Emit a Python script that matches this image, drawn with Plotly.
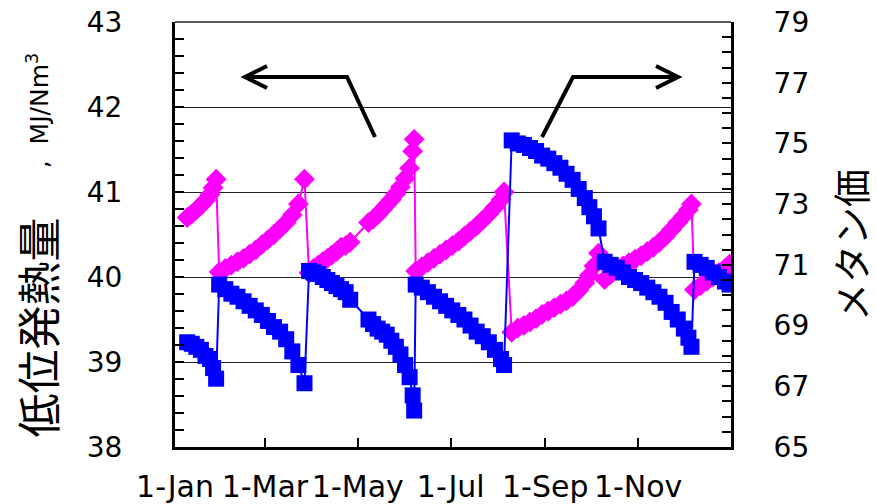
import plotly.graph_objects as go

# Sampling dates (one shared list for both measured quantities)
dates = [
    # Jan
    "2009-01-09", "2009-01-12", "2009-01-15", "2009-01-18", "2009-01-21", "2009-01-24", "2009-01-26", "2009-01-28",
    # Jan 30 - Mar 27
    "2009-01-30", "2009-02-03", "2009-02-07", "2009-02-11", "2009-02-15", "2009-02-19", "2009-02-23", "2009-02-27",
    "2009-03-03", "2009-03-07", "2009-03-11", "2009-03-15", "2009-03-19", "2009-03-23", "2009-03-27",
    # Mar 30 - Jun 7
    "2009-03-30", "2009-04-02", "2009-04-05", "2009-04-08", "2009-04-11", "2009-04-14", "2009-04-17", "2009-04-20",
    "2009-04-23", "2009-04-26",
    "2009-05-08", "2009-05-11", "2009-05-14", "2009-05-17", "2009-05-20", "2009-05-23", "2009-05-26", "2009-05-29",
    "2009-06-01", "2009-06-04", "2009-06-06", "2009-06-07",
    # Jun 8 - Aug 5
    "2009-06-08", "2009-06-12", "2009-06-16", "2009-06-20", "2009-06-24", "2009-06-28", "2009-07-02", "2009-07-06",
    "2009-07-10", "2009-07-14", "2009-07-18", "2009-07-22", "2009-07-26", "2009-07-30", "2009-08-03", "2009-08-05",
    # Aug 10 - Oct 6
    "2009-08-10", "2009-08-14", "2009-08-18", "2009-08-22", "2009-08-26", "2009-08-30", "2009-09-03", "2009-09-07",
    "2009-09-11", "2009-09-15", "2009-09-19", "2009-09-23", "2009-09-27", "2009-09-30", "2009-10-03", "2009-10-06",
    # Oct 10 - Dec 6
    "2009-10-10", "2009-10-14", "2009-10-18", "2009-10-22", "2009-10-26", "2009-10-30", "2009-11-03", "2009-11-07",
    "2009-11-11", "2009-11-15", "2009-11-19", "2009-11-23", "2009-11-27", "2009-12-01", "2009-12-04", "2009-12-06",
    # Dec 8 - Dec 31
    "2009-12-08", "2009-12-12", "2009-12-16", "2009-12-20", "2009-12-24", "2009-12-28", "2009-12-31",
]

# Lower heating value, MJ/Nm3 (left axis)
heating_value = [
    40.70, 40.74, 40.79, 40.84, 40.90, 40.97, 41.05, 41.15,
    40.06, 40.10, 40.14, 40.18, 40.22, 40.27, 40.32, 40.38,
    40.44, 40.50, 40.57, 40.64, 40.73, 40.86, 41.15,
    40.05, 40.10, 40.14, 40.18, 40.22, 40.26, 40.30, 40.35,
    40.37, 40.41,
    40.64, 40.68, 40.73, 40.79, 40.85, 40.91, 40.98, 41.06,
    41.16, 41.28, 41.48, 41.62,
    40.07, 40.12, 40.17, 40.22, 40.27, 40.32, 40.37, 40.42,
    40.48, 40.54, 40.60, 40.67, 40.74, 40.82, 40.91, 41.00,
    39.35, 39.40, 39.43, 39.47, 39.51, 39.56, 39.60, 39.64,
    39.68, 39.72, 39.77, 39.84, 39.93, 40.02, 40.13, 40.28,
    39.97, 40.03, 40.09, 40.13, 40.17, 40.21, 40.25, 40.30,
    40.35, 40.41, 40.48, 40.56, 40.64, 40.72, 40.79, 40.86,
    39.85, 39.90, 39.95, 40.00, 40.05, 40.10, 40.15,
]

# Methane number (right axis)
methane_number = [
    68.45, 68.40, 68.30, 68.20, 68.00, 67.90, 67.60, 67.25,
    70.35, 70.20, 70.05, 69.95, 69.80, 69.65, 69.50, 69.35,
    69.15, 68.95, 68.80, 68.55, 68.15, 67.70, 67.10,
    70.80, 70.75, 70.70, 70.60, 70.50, 70.40, 70.30, 70.20,
    70.10, 69.85,
    69.20, 69.05, 68.90, 68.80, 68.70, 68.50, 68.30, 68.05,
    67.70, 67.30, 66.70, 66.20,
    70.35, 70.25, 70.10, 69.95, 69.80, 69.65, 69.50, 69.35,
    69.20, 69.00, 68.80, 68.65, 68.45, 68.20, 67.90, 67.70,
    75.10, 75.00, 74.95, 74.85, 74.75, 74.60, 74.50, 74.35,
    74.20, 74.00, 73.80, 73.50, 73.20, 72.90, 72.60, 72.20,
    71.10, 71.00, 70.90, 70.75, 70.60, 70.50, 70.40, 70.25,
    70.10, 69.95, 69.75, 69.45, 69.20, 68.90, 68.60, 68.30,
    71.10, 71.00, 70.90, 70.75, 70.60, 70.45, 70.35,
]

x_tick_dates = ["2009-01-01", "2009-03-01", "2009-05-01", "2009-07-01", "2009-09-01", "2009-11-01"]
x_tick_text = ["1-Jan", "1-Mar", "1-May", "1-Jul", "1-Sep", "1-Nov"]

left_title = "低位発熱量"
left_unit = ",  MJ/Nm<sup>3</sup>"
right_title = "メタン価"

FONT = "DejaVu Sans"
CJK = "Noto Sans CJK JP"

fig = go.Figure()

fig.add_trace(go.Scatter(
    x=dates, y=heating_value, mode="lines+markers", yaxis="y",
    line=dict(color="#FF00FF", width=2),
    marker=dict(symbol="diamond", size=16, color="#FF00FF"),
    showlegend=False,
))
fig.add_trace(go.Scatter(
    x=dates, y=methane_number, mode="lines+markers", yaxis="y2",
    line=dict(color="#0000FF", width=2),
    marker=dict(symbol="square", size=16, color="#0000FF"),
    showlegend=False,
))

tick_style = dict(ticks="inside", ticklen=9, tickwidth=2, tickcolor="black")

fig.update_layout(
    width=877, height=504,
    margin=dict(l=175, r=146, t=22, b=57, autoexpand=False),
    paper_bgcolor="white", plot_bgcolor="white",
    font=dict(family=FONT, color="black"),
    xaxis=dict(
        type="date", range=["2009-01-01", "2009-12-31 23:00"],
        tickvals=x_tick_dates, ticktext=x_tick_text, tickangle=0,
        **tick_style,
        tickfont=dict(family=FONT, size=30, color="black"),
        ticklabelstandoff=11, automargin=False,
        showline=True, linewidth=3, linecolor="black",
        showgrid=False, zeroline=False,
    ),
    yaxis=dict(
        range=[38, 43], dtick=1, tick0=38,
        **tick_style,
        minor=dict(dtick=0.2, showgrid=False, **tick_style),
        tickfont=dict(family=FONT, size=28, color="black"),
        ticklabelstandoff=44, automargin=False,
        showline=True, linewidth=3, linecolor="black",
        showgrid=True, gridcolor="#222222", gridwidth=1.3, zeroline=False,
    ),
    yaxis2=dict(
        range=[65, 79], dtick=2, tick0=65,
        overlaying="y", side="right",
        **tick_style,
        minor=dict(dtick=0.5, showgrid=False, **tick_style),
        tickfont=dict(family=FONT, size=28, color="black"),
        ticklabelstandoff=34, automargin=False,
        showline=True, linewidth=3, linecolor="black",
        showgrid=False, zeroline=False,
    ),
)

# Thin frame line along the top of the plotting area
fig.add_shape(type="line", xref="paper", yref="paper", x0=0, x1=1, y0=1, y1=1,
              line=dict(color="#222222", width=1.3))

# Axis titles
fig.add_annotation(text=left_title, xref="paper", yref="paper", x=-0.2482, y=0.2812,
                   xanchor="center", yanchor="middle", textangle=-90, showarrow=False,
                   font=dict(family=CJK, size=44, color="black"))
fig.add_annotation(text=left_unit, xref="paper", yref="paper", x=-0.2464, y=0.79,
                   xanchor="center", yanchor="middle", textangle=-90, showarrow=False,
                   font=dict(family=FONT, size=25, color="black"))
fig.add_annotation(text=right_title, xref="paper", yref="paper", x=1.214, y=0.4753,
                   xanchor="center", yanchor="middle", textangle=-90, showarrow=False,
                   font=dict(family=CJK, size=38, color="black"))

# Pointer arrows: each curve points to the axis it belongs to
arrow_line = dict(color="black", width=4)
fig.add_shape(type="path", xref="paper", yref="paper", line=arrow_line,
              path="M 0.3597,0.7294 L 0.3094,0.8706 L 0.1259,0.8706")
fig.add_shape(type="path", xref="paper", yref="paper", line=arrow_line,
              path="M 0.1655,0.8965 L 0.1259,0.8706 L 0.1655,0.8447")
fig.add_shape(type="path", xref="paper", yref="paper", line=arrow_line,
              path="M 0.6601,0.7294 L 0.7158,0.8706 L 0.9047,0.8706")
fig.add_shape(type="path", xref="paper", yref="paper", line=arrow_line,
              path="M 0.8651,0.8965 L 0.9047,0.8706 L 0.8651,0.8447")

fig.write_html("out.html")
